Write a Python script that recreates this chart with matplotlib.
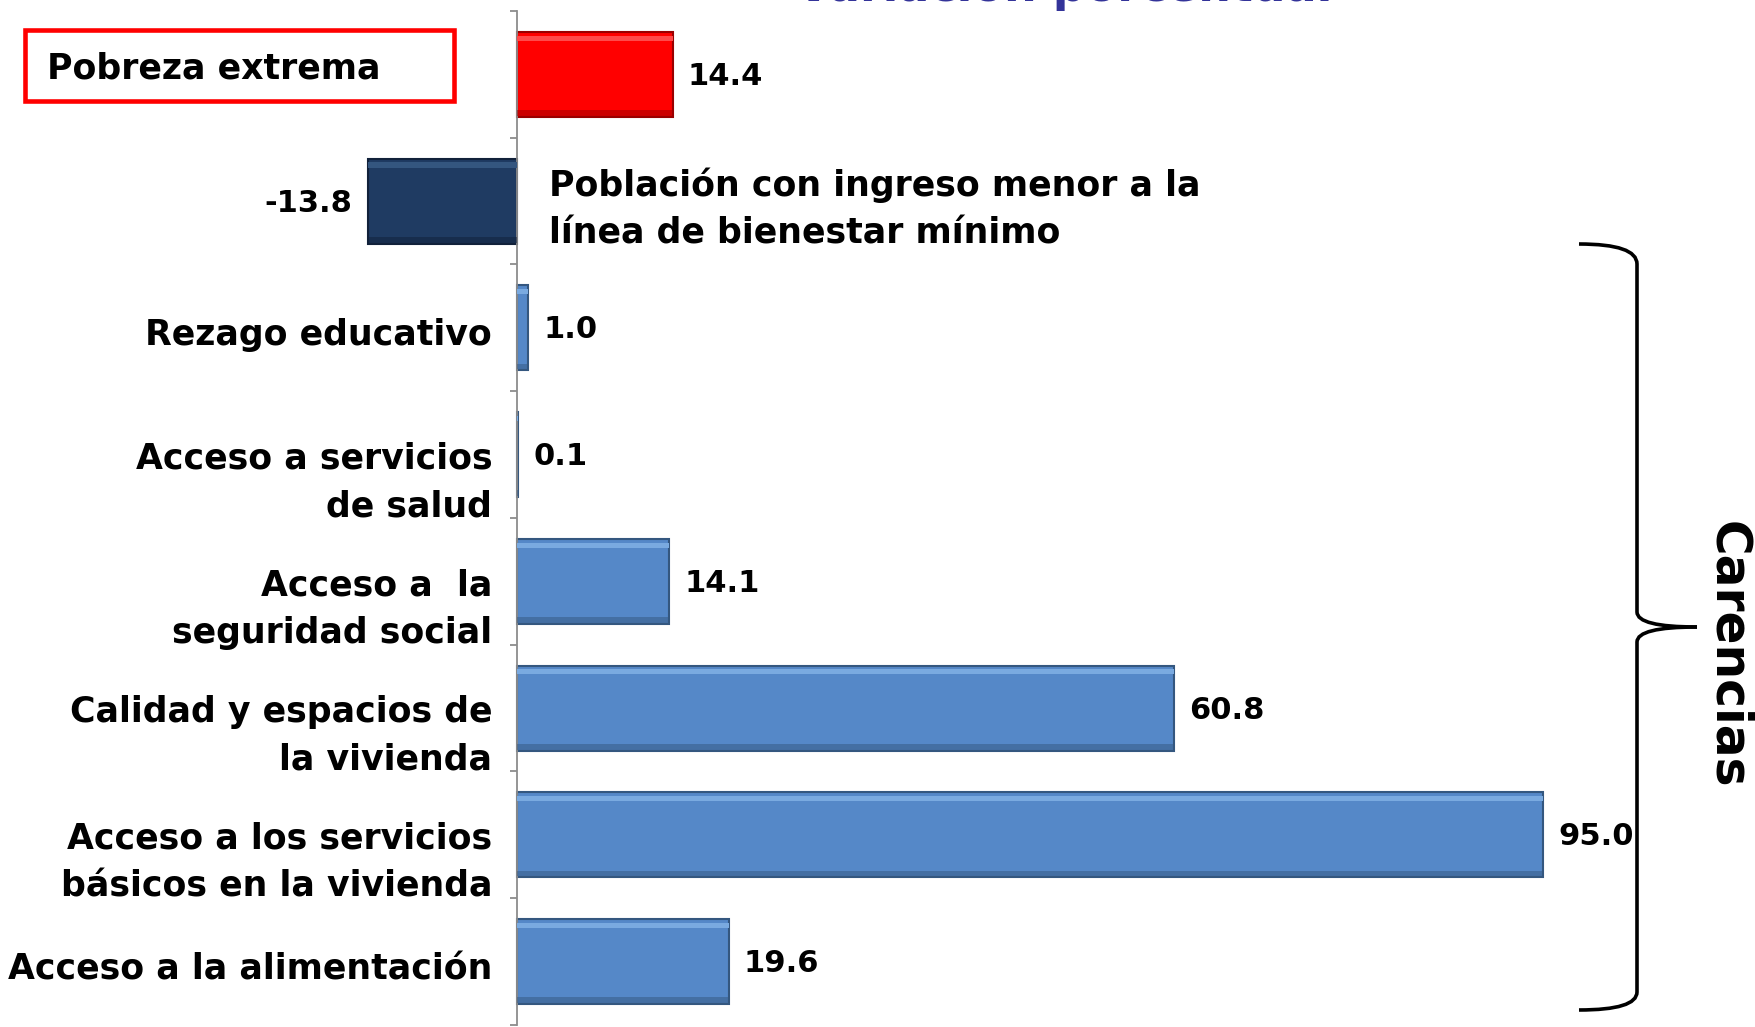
import matplotlib
matplotlib.use("Agg")
import matplotlib.pyplot as plt
from matplotlib.patches import Rectangle, PathPatch
from matplotlib.path import Path

# Datos
categorias = ["Pobreza extrema",
              "Población con ingreso menor a la\nlínea de bienestar mínimo",
              "Rezago educativo",
              "Acceso a servicios\nde salud",
              "Acceso a  la\nseguridad social",
              "Calidad y espacios de\nla vivienda",
              "Acceso a los servicios\nbásicos en la vivienda",
              "Acceso a la alimentación"]
valores = [14.4, -13.8, 1.0, 0.1, 14.1, 60.8, 95.0, 19.6]
colores = ["#FF0000", "#1F3B62", "#5588C8", "#5588C8", "#5588C8", "#5588C8", "#5588C8", "#5588C8"]
bordes = ["#9A0000", "#11213A", "#34577F", "#34577F", "#34577F", "#34577F", "#34577F", "#34577F"]
claros = ["#FF4A4A", "#34567F", "#7AAAE0", "#7AAAE0", "#7AAAE0", "#7AAAE0", "#7AAAE0", "#7AAAE0"]

W, H = 1756, 1027
fig = plt.figure(figsize=(W / 100, H / 100), dpi=100)
ax = fig.add_axes([0, 0.002, 1, 0.9873])

pos = list(range(len(valores)))
alto = 0.67
ax.barh(pos, valores, height=alto, color=colores, edgecolor=bordes, linewidth=1.5, zorder=2)
# brillo superior y sombra inferior (efecto bisel)
ax.barh([p - alto / 2 + 0.05 for p in pos], valores, height=0.04, color=claros, linewidth=0, zorder=3)
ax.barh([p + alto / 2 - 0.03 for p in pos], valores, height=0.045, color=bordes, alpha=0.5, linewidth=0, zorder=3)

ax.set_xlim(-517 / 10.8, (W - 517) / 10.8)
ax.set_ylim(7.5, -0.5)

for s in ["top", "right", "bottom"]:
    ax.spines[s].set_visible(False)
ax.spines["left"].set_position(("data", 0))
ax.spines["left"].set_color("#8C8C8C")
ax.spines["left"].set_linewidth(1.3)
ax.set_xticks([])
ax.set_yticks([p - 0.5 for p in pos] + [7.5])
ax.set_yticklabels([])
ax.tick_params(axis="y", direction="out", length=5, color="#8C8C8C", width=1.3)

fuente = "DejaVu Sans"

# etiquetas de valor
for p, v in zip(pos, valores):
    if v < 0:
        ax.annotate(f"{v:.1f}", (v, p), xytext=(-11, -1.5), textcoords="offset points",
                    ha="right", va="center", fontsize=22, fontweight="bold", family=fuente)
    else:
        ax.annotate(f"{v:.1f}", (v, p), xytext=(11, -1.5), textcoords="offset points",
                    ha="left", va="center", fontsize=22, fontweight="bold", family=fuente)

# etiquetas de categoria
for p, c in zip(pos, categorias):
    if p == 0:
        ax.text(-43.5, p - 0.05, c, ha="left", va="center", fontsize=25,
                fontweight="bold", family=fuente)
        ax.add_patch(Rectangle((-45.6, -0.35), 39.8, 0.56, fill=False,
                               edgecolor="#FF0000", linewidth=3.3, clip_on=False))
    elif p == 1:
        ax.text(2.96, p + 0.06, c, ha="left", va="center", fontsize=25,
                fontweight="bold", family=fuente, linespacing=1.5)
    else:
        off = 0.22 if "\n" in c else 0.06
        ax.text(-2.3, p + off, c, ha="right", va="center", fontsize=25,
                fontweight="bold", family=fuente, linespacing=1.5)

# titulo (cortado arriba, como en el original)
fig.text(1064 / W, 1 - 1 / H, "Variación porcentual", ha="center", va="baseline",
         fontsize=33, fontweight="bold", color="#333399", family=fuente)

# llave de carencias
def fp(x, y):
    return (x / W, 1 - y / H)

arriba = [fp(1579, 244), fp(1637, 244), fp(1637, 264), fp(1637, 612), fp(1637, 627), fp(1697, 627)]
abajo = [fp(1697, 627), fp(1637, 627), fp(1637, 642), fp(1637, 992), fp(1637, 1010), fp(1579, 1010)]
codigos = [Path.MOVETO, Path.CURVE3, Path.CURVE3, Path.LINETO, Path.CURVE3, Path.CURVE3]
for pts in [arriba, abajo]:
    fig.patches.append(PathPatch(Path(pts, codigos), fill=False, edgecolor="black",
                                 linewidth=2.6, transform=fig.transFigure))

fig.text(1728 / W, 1 - 655 / H, "Carencias", rotation=-90, ha="center", va="center",
         fontsize=35, fontweight="bold", family=fuente)

fig.savefig("out.png", dpi=100)
